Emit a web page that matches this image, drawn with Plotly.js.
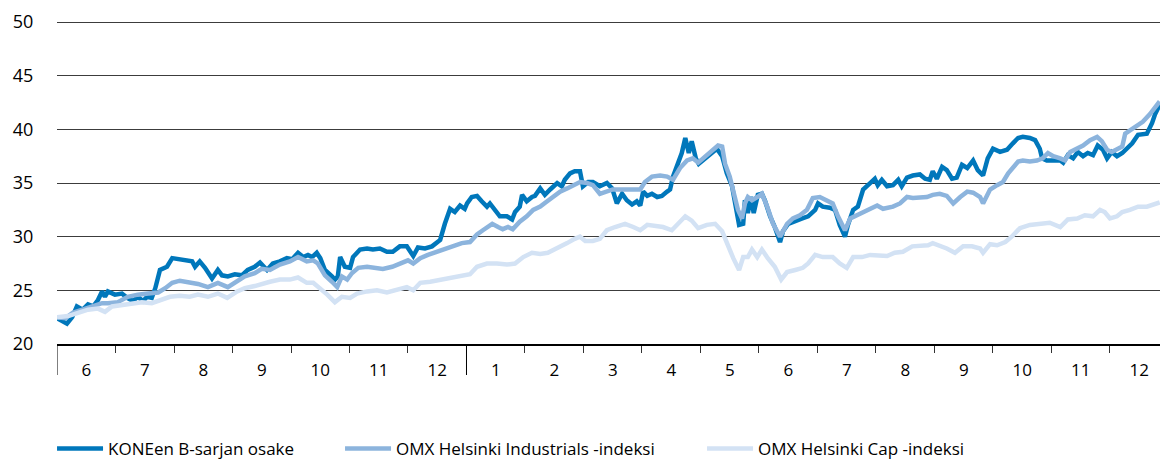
<!DOCTYPE html>
<html>
<head>
<meta charset="utf-8">
<script src="https://cdn.plot.ly/plotly-3.0.1.min.js"></script>
<style>html,body{margin:0;padding:0;background:#fff;}#chart{width:1160px;height:461px;}</style>
</head>
<body>
<div id="chart"></div>
<script>
// Time axis: months elapsed since the start of June 2009 (0 = 1 June 2009)
const monthLabels = ['6','7','8','9','10','11','12','1','2','3','4','5','6','7','8','9','10','11','12'];

const seriesNames = ['KONEen B-sarjan osake', 'OMX Helsinki Industrials -indeksi', 'OMX Helsinki Cap -indeksi'];

const koneT = [0.00,0.17,0.26,0.34,0.44,0.53,0.62,0.70,0.77,0.82,0.87,0.99,1.11,1.20,1.30,1.38,1.47,1.54,1.62,1.68,1.76,1.88,1.97,2.07,2.19,2.31,2.36,2.44,2.53,2.65,2.75,2.82,2.92,3.04,3.16,3.26,3.38,3.47,3.59,3.69,3.81,3.93,4.02,4.12,4.21,4.29,4.36,4.44,4.50,4.58,4.70,4.75,4.80,4.84,4.92,5.01,5.06,5.18,5.30,5.40,5.52,5.64,5.74,5.86,5.98,6.09,6.17,6.29,6.41,6.55,6.63,6.72,6.80,6.89,6.97,7.01,7.09,7.18,7.26,7.35,7.40,7.49,7.57,7.69,7.78,7.83,7.91,7.95,8.03,8.12,8.17,8.26,8.34,8.43,8.55,8.63,8.68,8.77,8.85,8.94,8.99,9.08,9.16,9.28,9.40,9.49,9.57,9.66,9.74,9.83,9.91,9.97,10.02,10.09,10.17,10.26,10.34,10.43,10.48,10.53,10.60,10.68,10.74,10.80,10.85,10.92,10.97,11.08,11.20,11.28,11.37,11.45,11.54,11.59,11.66,11.73,11.76,11.81,11.86,11.91,11.98,12.05,12.10,12.19,12.27,12.36,12.41,12.50,12.62,12.74,12.84,12.96,13.01,13.09,13.21,13.30,13.38,13.47,13.52,13.61,13.69,13.78,13.90,13.98,14.03,14.10,14.19,14.29,14.38,14.44,14.53,14.63,14.75,14.84,14.92,14.97,15.04,15.13,15.21,15.30,15.38,15.47,15.56,15.66,15.74,15.83,15.91,16.00,16.12,16.24,16.34,16.43,16.51,16.63,16.72,16.80,16.84,16.92,17.03,17.15,17.20,17.28,17.37,17.45,17.54,17.62,17.71,17.79,17.88,17.95,18.03,18.12,18.21,18.29,18.38,18.48,18.63,18.72,18.77,18.85];
const koneV = [22.4,21.9,22.5,23.5,23.2,23.7,23.5,24.1,24.9,24.4,24.9,24.6,24.7,24.3,24.0,24.4,24.0,24.4,24.3,25.2,26.9,27.2,28.0,27.9,27.8,27.7,27.2,27.7,27.1,26.1,26.9,26.4,26.3,26.5,26.4,26.9,27.2,27.6,26.9,27.5,27.7,28.0,27.9,28.5,28.1,28.3,28.1,28.5,28.0,26.9,26.3,26.0,26.3,28.1,27.2,27.1,28.1,28.8,28.9,28.8,28.9,28.6,28.6,29.1,29.1,28.2,29.0,28.9,29.1,29.7,31.2,32.6,32.3,32.9,32.6,33.1,33.7,33.8,33.3,32.8,33.1,32.5,31.9,31.9,31.6,32.3,32.8,33.9,33.3,33.7,33.8,34.5,33.9,34.4,35.0,34.7,35.3,35.9,36.1,36.1,34.7,35.1,35.1,34.7,35.0,34.5,33.1,34.0,33.4,33.0,33.3,32.9,34.2,33.8,34.0,33.7,33.8,34.2,34.4,35.6,36.7,37.8,39.2,37.8,38.9,37.3,36.8,37.3,37.8,38.2,37.5,35.9,34.7,33.1,31.1,31.2,33.4,32.2,33.7,32.2,33.9,34.0,33.4,31.9,30.9,29.5,30.5,31.2,31.4,31.7,31.9,32.5,33.1,32.8,32.7,32.5,31.1,30.0,31.1,32.5,32.8,34.4,35.0,35.4,34.8,35.3,34.7,34.8,35.3,34.7,35.5,35.7,35.8,35.4,35.3,36.1,35.4,36.5,36.2,35.4,35.5,36.7,36.4,37.1,36.2,35.7,37.3,38.2,37.9,38.1,38.7,39.2,39.3,39.2,39.0,38.2,37.3,37.1,37.1,37.1,36.9,37.6,37.3,37.9,37.5,37.8,37.6,38.5,38.1,37.3,37.9,37.5,37.8,38.2,38.7,39.5,39.6,40.6,41.4,42.3];

const indT = [0.00,0.14,0.27,0.43,0.60,0.77,0.87,1.04,1.21,1.38,1.56,1.73,1.85,1.97,2.10,2.24,2.41,2.58,2.75,2.92,3.08,3.21,3.38,3.50,3.64,3.81,3.98,4.12,4.27,4.38,4.46,4.58,4.70,4.79,4.87,4.96,5.04,5.15,5.30,5.44,5.57,5.73,5.86,6.00,6.09,6.21,6.34,6.50,6.63,6.77,6.92,7.06,7.18,7.28,7.44,7.54,7.62,7.71,7.79,7.91,8.03,8.14,8.26,8.38,8.48,8.60,8.72,8.82,8.94,9.06,9.16,9.28,9.40,9.50,9.62,9.74,9.85,9.97,10.05,10.17,10.31,10.43,10.53,10.65,10.77,10.87,10.96,11.08,11.20,11.30,11.37,11.42,11.50,11.59,11.64,11.71,11.76,11.81,11.88,11.97,12.05,12.14,12.24,12.36,12.48,12.58,12.70,12.82,12.92,13.04,13.16,13.26,13.35,13.47,13.56,13.68,13.78,13.90,14.02,14.12,14.21,14.29,14.41,14.53,14.63,14.75,14.87,14.97,15.09,15.21,15.32,15.44,15.56,15.66,15.78,15.83,15.95,16.07,16.17,16.26,16.34,16.43,16.51,16.63,16.75,16.85,16.94,17.03,17.15,17.23,17.32,17.44,17.54,17.66,17.78,17.86,17.95,18.03,18.12,18.21,18.26,18.34,18.46,18.56,18.68,18.80,18.85];
const indV = [22.5,22.4,22.9,23.2,23.5,23.8,23.8,23.9,24.4,24.6,24.7,24.8,25.2,25.7,25.9,25.8,25.6,25.3,25.7,25.3,25.8,26.3,26.6,27.0,26.9,27.4,27.7,28.1,27.7,27.8,27.5,26.4,25.8,25.3,26.3,26.0,26.6,27.1,27.2,27.1,27.0,27.2,27.5,27.8,27.5,28.0,28.3,28.6,28.9,29.1,29.4,29.5,30.2,30.6,31.2,30.9,30.7,30.9,30.7,31.4,31.9,32.5,32.8,33.3,33.7,34.2,34.5,34.8,35.1,35.0,34.8,34.0,34.2,34.4,34.4,34.4,34.4,34.4,35.1,35.6,35.7,35.6,35.3,36.4,37.1,37.3,36.9,37.5,38.1,38.5,38.4,36.8,35.6,33.7,32.5,31.7,33.1,33.7,33.4,33.7,34.0,32.8,31.2,30.0,31.2,31.7,32.0,32.5,33.6,33.7,33.4,33.1,31.9,30.6,31.7,32.0,32.2,32.6,32.9,32.6,32.7,32.8,33.1,33.7,33.6,33.7,33.7,33.9,34.0,33.8,33.1,33.7,34.2,34.1,33.7,33.1,34.4,34.8,35.1,35.9,36.5,37.0,37.1,37.0,37.1,37.3,37.8,37.5,37.3,37.1,37.9,38.2,38.5,39.0,39.3,38.9,38.1,37.9,38.2,38.4,39.6,39.9,40.4,40.7,41.4,42.2,42.6];

const capT = [0.00,0.19,0.36,0.53,0.70,0.82,0.94,1.11,1.28,1.45,1.62,1.79,1.93,2.10,2.27,2.41,2.58,2.75,2.91,3.08,3.21,3.38,3.50,3.64,3.81,3.98,4.12,4.27,4.38,4.50,4.62,4.75,4.87,5.01,5.13,5.30,5.47,5.64,5.81,5.98,6.09,6.21,6.38,6.55,6.72,6.89,7.06,7.18,7.35,7.52,7.69,7.83,7.97,8.12,8.26,8.39,8.55,8.72,8.85,8.94,9.03,9.16,9.28,9.40,9.54,9.71,9.85,9.97,10.09,10.22,10.36,10.51,10.62,10.74,10.85,10.96,11.11,11.25,11.37,11.45,11.56,11.66,11.73,11.81,11.88,11.97,12.05,12.15,12.27,12.38,12.48,12.62,12.75,12.84,12.96,13.09,13.26,13.38,13.50,13.61,13.76,13.90,14.03,14.19,14.32,14.46,14.62,14.75,14.89,14.97,15.09,15.21,15.35,15.49,15.64,15.78,15.83,15.95,16.07,16.21,16.32,16.46,16.63,16.80,16.97,17.15,17.28,17.44,17.57,17.71,17.83,17.91,18.00,18.12,18.21,18.34,18.48,18.63,18.72,18.85];
const capV = [22.5,22.6,22.9,23.2,23.3,23.0,23.5,23.6,23.8,23.9,23.8,24.1,24.4,24.5,24.4,24.6,24.4,24.7,24.3,24.9,25.2,25.4,25.6,25.8,26.0,26.0,26.2,25.7,25.7,25.2,24.6,23.9,24.4,24.3,24.7,24.9,25.0,24.8,25.1,25.3,25.0,25.7,25.8,26.0,26.1,26.4,26.5,27.2,27.5,27.5,27.4,27.5,28.1,28.5,28.4,28.5,28.9,29.4,29.8,30.0,29.6,29.6,29.8,30.6,30.9,31.2,30.9,30.6,31.1,31.0,30.9,30.6,31.2,31.9,31.5,30.8,31.1,31.2,30.5,29.4,28.0,26.9,28.1,28.1,28.8,28.1,28.8,28.0,27.2,26.0,26.7,26.9,27.1,27.5,28.3,28.1,28.1,27.5,27.1,28.1,28.1,28.3,28.3,28.2,28.5,28.6,29.1,29.1,29.2,29.4,29.2,28.9,28.5,29.1,29.1,28.9,28.5,29.3,29.2,29.5,30.0,30.8,31.1,31.2,31.3,30.9,31.6,31.7,32.0,31.9,32.5,32.3,31.7,31.9,32.3,32.5,32.8,32.8,33.0,33.2];

const yTicks = [20,25,30,35,40,45,50];
const seriesColors = ['#0077bb', '#8cb4dd', '#d3e2f4'];

const FONT = '"Open Sans", "Noto Sans", sans-serif';

const labelPos = monthLabels.map((_, i) => i + 0.5);
const monthEdges = monthLabels.map((_, i) => i).slice(1);
const yearEdges = [0, monthLabels.indexOf('1')];
const legendIds = ['legend', 'legend2', 'legend3'];
const legendX = [-0.0045, 0.2566, 0.5848];

const traces = [
  {x: koneT, y: koneV},
  {x: indT, y: indV},
  {x: capT, y: capV}
].map((t, i) => Object.assign(t, {
  type: 'scatter', mode: 'lines', name: seriesNames[i],
  legend: legendIds[i],
  line: {color: seriesColors[i], width: 4.5, shape: 'linear'},
  hoverinfo: 'skip'
}));

const shapes = yearEdges.map(v => ({
  type: 'line', xref: 'x', yref: 'paper', x0: v, x1: v, y0: 0, y1: -0.096,
  line: {color: '#000', width: 1}
}));

const layout = {
  width: 1160, height: 461,
  margin: {l: 57, r: 0, t: 21, b: 117, autoexpand: false},
  paper_bgcolor: '#fff', plot_bgcolor: '#fff',
  font: {family: FONT, size: 17, color: '#000'},
  showlegend: true,
  xaxis: {
    range: [0, 18.855], fixedrange: true,
    showgrid: false, zeroline: false,
    showline: true, linecolor: '#000', linewidth: 1.5,
    tickmode: 'array', tickvals: labelPos, ticktext: monthLabels,
    ticks: 'outside', ticklen: 10, tickcolor: 'rgba(0,0,0,0)',
    tickfont: {family: FONT, size: 17, color: '#000'},
    minor: {tickmode: 'array', tickvals: monthEdges, ticks: 'outside', ticklen: 7, tickwidth: 1, tickcolor: '#333', showgrid: false}
  },
  yaxis: {
    range: [20, 50.1], fixedrange: true,
    tickmode: 'array', tickvals: yTicks,
    showgrid: true, gridcolor: '#3c3c3c', gridwidth: 1,
    zeroline: false, showline: false,
    ticks: 'outside', ticklen: 19, tickcolor: 'rgba(0,0,0,0)',
    tickfont: {family: FONT, size: 18, color: '#000'}
  },
  shapes: shapes,
  hovermode: false
};
legendIds.forEach((id, i) => {
  layout[id] = {
    orientation: 'h', x: legendX[i], xanchor: 'left', y: -0.325, yanchor: 'middle',
    font: {family: FONT, size: 17, color: '#000'},
    itemwidth: 46, borderwidth: 0, bgcolor: 'rgba(0,0,0,0)'
  };
});

Plotly.newPlot('chart', traces, layout, {displayModeBar: false, staticPlot: true});
</script>
</body>
</html>
